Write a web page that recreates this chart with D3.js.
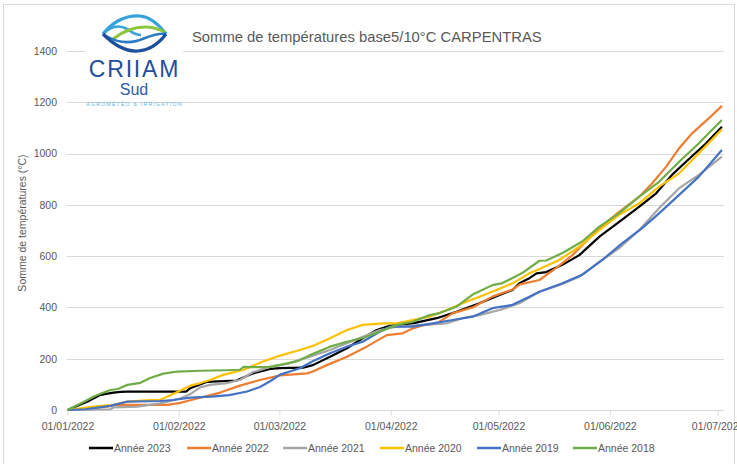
<!DOCTYPE html>
<html>
    <head>
        <meta charset="utf-8">
        <style>
            body { margin: 0; background: #fff; }
            text { font-family: "Liberation Sans", Arial, sans-serif; fill: #595959; }
            .grid line { stroke: #d9d9d9; stroke-width: 1; }
            .serie { fill: none; stroke-width: 2.2; stroke-linejoin: round; }
        </style>
    <script src="https://d3js.org/d3.v7.min.js"></script>
    <script>
        // jours depuis le 01/01 et somme de temperatures (°C)
        var annees = ['Année 2023', 'Année 2022', 'Année 2021', 'Année 2020', 'Année 2019', 'Année 2018'];
        var couleurs = ['#000000', '#ED7D31', '#A5A5A5', '#FFC000', '#4472C4', '#70AD47'];

        var jours2023 = [0, 5.6, 9.2, 12.8, 14.7, 16.7, 28.6, 33, 34.2, 36.9, 38.9, 47, 51.7, 56.4, 59.2, 65.6, 68.3, 73.1, 77.8, 82.2, 86.1, 89.7, 96.1, 102.8, 108.3, 114.7, 120.3, 123.9, 125.8, 128.6, 130.6, 133.3, 137.8, 142.5, 148.1, 153.6, 159.2, 163.9, 168.3, 172.2, 177.8, 182.2];
        var somme2023 = [0, 33, 59, 68, 71, 72, 72, 72, 85, 100, 110, 115, 143, 160, 163, 165, 175, 208, 241, 280, 312, 328, 338, 358, 383, 416, 449, 468, 494, 514, 533, 538, 566, 604, 676, 734, 793, 845, 917, 968, 1040, 1105];

        var jours2022 = [0, 5, 11.1, 12.8, 27.8, 31.4, 34.2, 36.9, 42.5, 48, 53.6, 59.2, 66.7, 68.3, 72.2, 77.8, 83.3, 88.9, 93.3, 96.1, 98.9, 102.8, 107.2, 112.8, 118.3, 123.9, 126, 131.4, 136.1, 140.6, 145.3, 148.1, 153.6, 159.2, 162.8, 166.7, 170.3, 173.9, 178.6, 182.2];
        var somme2022 = [0, 5, 13, 20, 20, 28, 38, 48, 68, 95, 117, 135, 143, 150, 175, 208, 247, 292, 299, 318, 330, 338, 377, 400, 442, 470, 490, 507, 554, 604, 671, 709, 773, 832, 884, 949, 1021, 1079, 1138, 1186];

        var jours2021 = [0, 11.9, 12.8, 19.4, 25.8, 31.4, 34.2, 36.9, 39.7, 44.4, 48.1, 51.7, 56.4, 61, 67.5, 73.1, 77.8, 82.2, 86.9, 91.7, 98.9, 105.6, 110, 114.7, 120.3, 125.8, 131.4, 136.9, 142.5, 148.1, 153.6, 159.2, 164.7, 170.3, 175.8, 182.2];
        var somme2021 = [0, 3, 10, 13, 26, 45, 62, 88, 98, 105, 118, 148, 168, 180, 208, 234, 260, 286, 312, 325, 332, 338, 358, 370, 390, 416, 461, 487, 520, 578, 631, 702, 787, 865, 917, 988];

        var jours2020 = [0, 7.2, 12.8, 16.7, 23, 25.8, 29.4, 34.2, 37, 39.7, 43.3, 48.9, 54.4, 59.2, 64.7, 68.3, 73.1, 77.8, 82.2, 87.8, 91.7, 96.1, 100.8, 105.6, 110, 114.7, 119.4, 123.9, 128.6, 131.4, 136.9, 142.5, 148.1, 153.6, 159.2, 164.7, 170.3, 175.8, 182.2];
        var somme2020 = [0, 13, 20, 33, 39, 40, 62, 95, 105, 117, 137, 156, 189, 212, 234, 250, 280, 312, 332, 338, 338, 351, 364, 390, 416, 442, 468, 494, 533, 550, 585, 637, 702, 761, 806, 871, 923, 1001, 1095];

        var jours2019 = [0, 5, 11.9, 14.7, 16.7, 25.8, 29.4, 34.2, 40, 45, 50, 53.6, 56.4, 59.2, 61.9, 64.7, 68.3, 73.1, 77.8, 82.2, 86.9, 89.7, 96.1, 101.7, 107.2, 112.8, 118.3, 123.9, 128.6, 131.4, 137.8, 143.3, 148.9, 154.4, 160, 164.7, 170.3, 175.8, 182.2];
        var somme2019 = [0, 3, 16, 26, 33, 35, 39, 48, 52, 58, 72, 90, 112, 138, 150, 163, 190, 221, 247, 266, 305, 325, 325, 338, 351, 364, 397, 410, 442, 461, 494, 527, 585, 650, 709, 767, 839, 910, 1014];

        var jours2018 = [0, 5, 7.2, 9.5, 12, 14, 16.7, 20.3, 23, 26.7, 30.6, 37, 44, 48, 49, 56, 59.2, 64, 67.5, 73.1, 77.8, 82.2, 86.9, 91.7, 96.1, 100.8, 103.6, 108.3, 112.8, 118.3, 121.1, 123.9, 126.7, 131.4, 133.3, 137.8, 143.3, 148.1, 153.6, 159.2, 164.7, 170.3, 175.8, 179.4, 182.2];
        var somme2018 = [0, 35, 52, 65, 78, 82, 98, 106, 125, 142, 150, 153, 155, 157, 168, 167, 176, 190, 214, 247, 266, 281, 305, 332, 344, 370, 378, 403, 450, 487, 495, 515, 535, 582, 583, 612, 657, 715, 768, 832, 890, 968, 1040, 1092, 1131];

        var ticksY = [0, 200, 400, 600, 800, 1000, 1200, 1400];
        var ticksX = ['2022-01-01', '2022-02-01', '2022-03-01', '2022-04-01', '2022-05-01', '2022-06-01', '2022-07-01'];

        function logo (svg) {
            var g = svg.append('g');
            g.append('rect').attr('x', 86).attr('y', 10).attr('width', 97).attr('height', 84).attr('fill', '#fff');
            // vagues
            g.append('path').attr('d', 'M103,34 C112,23 125,15 140,16 C152,17 160,26 166,34')
                .attr('fill', 'none').attr('stroke', '#34a3dd').attr('stroke-width', 3.2);
            g.append('path').attr('d', 'M103,34 C110,27 118,25 125,28 C131,31 134,35 141,35')
                .attr('fill', 'none').attr('stroke', '#34a3dd').attr('stroke-width', 2.6);
            g.append('path').attr('d', 'M113,39 C122,32 132,27 145,27 C153,27 159,29 165,32')
                .attr('fill', 'none').attr('stroke', '#8cc63e').attr('stroke-width', 3);
            g.append('path').attr('d', 'M106,36 C118,43 132,44 145,38 C153,35 160,33 166,34')
                .attr('fill', 'none').attr('stroke', '#2a7ac4').attr('stroke-width', 2.6);
            g.append('path').attr('d', 'M103,34 C114,45 126,52 138,51 C151,50 160,42 166,34')
                .attr('fill', 'none').attr('stroke', '#1d4f9c').attr('stroke-width', 3.2);
            g.append('text').attr('x', 134.5).attr('y', 77).attr('text-anchor', 'middle')
                .style('font-size', '23px').style('letter-spacing', '1.8px')
                .style('fill', '#1f4e9a').text('CRIIAM');
            g.append('text').attr('x', 134).attr('y', 95).attr('text-anchor', 'middle')
                .style('font-size', '16px').style('fill', '#2a5caa').text('Sud');
            g.append('text').attr('x', 134.5).attr('y', 106).attr('text-anchor', 'middle')
                .style('font-size', '5.2px').style('letter-spacing', '1.2px')
                .style('fill', '#5bb4e5').text('AGROMÉTÉO & IRRIGATION');
        }

        function chart () {
            var width = 737, height = 464;
            var svg = d3.select('body').append('svg')
                .attr('width', width).attr('height', height);

            svg.append('rect').attr('x', 3.5).attr('y', 4.5).attr('width', 731).attr('height', 470)
                .attr('fill', '#fff').attr('stroke', '#d9d9d9');

            var debut = new Date(2022, 0, 1);
            var parse = d3.timeParse('%Y-%m-%d');
            var x = d3.scaleTime().domain([debut, new Date(2022, 6, 1)]).range([67.5, 717.6]);
            var y = d3.scaleLinear().domain([0, 1400]).range([410, 51]);

            // quadrillage
            svg.append('g').attr('class', 'grid').selectAll('line')
                .data(ticksY.slice(1)).enter().append('line')
                .attr('x1', 67).attr('x2', 724)
                .attr('y1', function (d) { return Math.round(y(d)) + 0.5; })
                .attr('y2', function (d) { return Math.round(y(d)) + 0.5; });

            // axe X
            var axeX = d3.axisBottom(x)
                .tickValues(ticksX.map(parse))
                .tickFormat(d3.timeFormat('%d/%m/%Y'))
                .tickSize(5).tickPadding(7);
            var gx = svg.append('g').attr('transform', 'translate(0,410.5)').call(axeX);
            gx.select('.domain').attr('d', 'M67,0H724').attr('stroke', '#d9d9d9');
            gx.selectAll('.tick line').attr('stroke', '#d9d9d9');
            gx.selectAll('.tick text').style('font-size', '10.5px').style('fill', '#595959')
                .style('font-family', '"Liberation Sans", Arial, sans-serif');

            // axe Y
            var axeY = d3.axisLeft(y).tickValues(ticksY).tickFormat(d3.format('d'))
                .tickSize(0).tickPadding(10);
            var gy = svg.append('g').attr('transform', 'translate(67,0)').call(axeY);
            gy.select('.domain').remove();
            gy.selectAll('.tick text').style('font-size', '10.5px').style('fill', '#595959')
                .style('font-family', '"Liberation Sans", Arial, sans-serif');

            svg.append('text').attr('transform', 'translate(26,223) rotate(-90)')
                .attr('text-anchor', 'middle').style('font-size', '10.5px')
                .text('Somme de températures (°C)');

            // courbes
            var series = [
                [jours2023, somme2023], [jours2022, somme2022], [jours2021, somme2021],
                [jours2020, somme2020], [jours2019, somme2019], [jours2018, somme2018]
            ];
            var ligne = d3.line()
                .x(function (d) { return x(d3.timeMinute.offset(debut, Math.round(d[0] * 1440))); })
                .y(function (d) { return y(d[1]); });
            series.forEach(function (s, i) {
                var pts = s[0].map(function (j, k) { return [j, s[1][k]]; });
                svg.append('path').attr('class', 'serie')
                    .attr('d', ligne(pts)).attr('stroke', couleurs[i]);
            });

            // titre
            svg.append('text').attr('x', 192).attr('y', 42).style('font-size', '14.8px')
                .text('Somme de températures base5/10°C CARPENTRAS');

            // legende
            var legX = [89, 187, 283, 380, 477, 573];
            var leg = svg.selectAll('.leg').data(annees).enter().append('g')
                .attr('class', 'leg')
                .attr('transform', function (d, i) { return 'translate(' + legX[i] + ',448)'; });
            leg.append('line').attr('x1', 0).attr('x2', 24).attr('y1', 0).attr('y2', 0)
                .attr('stroke-width', 2.5)
                .attr('stroke', function (d, i) { return couleurs[i]; });
            leg.append('text').attr('x', 25).attr('y', 4).style('font-size', '10.5px')
                .text(function (d) { return d; });

            logo(svg);
        }
    </script>
    </head>
    <body onload="chart()">
    </body>
</html>
